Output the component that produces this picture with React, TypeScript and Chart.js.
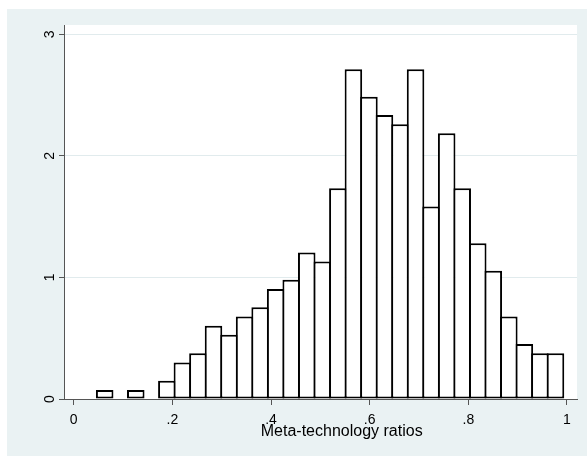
import React, { useEffect, useRef } from "react";
import { Chart, registerables } from "chart.js";

Chart.register(...registerables);

// Histogram bins (centers of 30 equal-width bins) and their densities
const binCenters = [
  0.0628, 0.0943, 0.1258, 0.1573, 0.1888, 0.2203, 0.2518, 0.2834, 0.3149, 0.3464,
  0.3779, 0.4094, 0.4409, 0.4724, 0.504, 0.5355, 0.567, 0.5985, 0.63, 0.6615,
  0.693, 0.7245, 0.7561, 0.7876, 0.8191, 0.8506, 0.8821, 0.9136, 0.9451, 0.9767,
];
const densities: (number | null)[] = [
  0.075, null, 0.075, null, 0.151, 0.301, 0.377, 0.603, 0.528, 0.678,
  0.754, 0.904, 0.98, 1.206, 1.131, 1.734, 2.713, 2.487, 2.336, 2.261,
  2.713, 1.583, 2.186, 1.734, 1.281, 1.055, 0.678, 0.452, 0.377, 0.377,
];

const xTickValues = [0, 0.2, 0.4, 0.6, 0.8, 1];
const xTickLabels = ["0", ".2", ".4", ".6", ".8", "1"];
const yTickValues = [0, 1, 2, 3];
const yTickLabels = ["0", "1", "2", "3"];
const xTitle = "Meta-technology ratios";

const FONT = "'Liberation Sans', Arial, Helvetica, sans-serif";
const BG = "#EAF2F3";
const AXIS = "#555555";

export default function App() {
  const ref = useRef<HTMLCanvasElement>(null);

  useEffect(() => {
    if (!ref.current) return;

    const bgPlugin = {
      id: "stataBg",
      beforeDraw(chart: any) {
        const { ctx, chartArea: a, width, height } = chart;
        ctx.save();
        ctx.fillStyle = BG;
        ctx.fillRect(0, 0, width, height);
        ctx.fillStyle = "#ffffff";
        ctx.fillRect(a.left, a.top, a.right - a.left, a.bottom - a.top);
        ctx.restore();
      },
    };

    const titlePlugin = {
      id: "xTitle",
      afterDraw(chart: any) {
        const ctx = chart.ctx;
        const xs = chart.scales.x;
        ctx.save();
        ctx.font = `16px ${FONT}`;
        ctx.fillStyle = "#000";
        ctx.textAlign = "center";
        ctx.textBaseline = "alphabetic";
        ctx.fillText(xTitle, xs.getPixelForValue(0.5433), chart.chartArea.bottom + 37);
        ctx.restore();
      },
    };

    const chart = new Chart(ref.current, {
      type: "bar",
      data: {
        datasets: [
          {
            data: binCenters.map((x, i) => ({ x, y: densities[i] })) as any,
            backgroundColor: "#ffffff",
            borderColor: "#000000",
            borderWidth: 2,
            borderSkipped: false,
            barPercentage: 1.1286,
            categoryPercentage: 1,
          },
        ],
      },
      options: {
        responsive: false,
        animation: false,
        devicePixelRatio: 1,
        layout: { padding: { top: 16, right: 10, left: 0, bottom: 0 } },
        plugins: { legend: { display: false }, tooltip: { enabled: false } },
        scales: {
          x: {
            type: "linear",
            min: -0.0197,
            max: 1.0203,
            offset: false,
            afterBuildTicks: (s: any) => {
              s.ticks = xTickValues.map((v) => ({ value: v }));
            },
            afterFit: (s: any) => {
              s.height = 57;
            },
            grid: {
              offset: false,
              drawOnChartArea: false,
              drawTicks: true,
              tickLength: 6,
              tickColor: AXIS,
              tickWidth: 1,
            },
            border: { display: true, color: AXIS, width: 1 },
            ticks: {
              autoSkip: false,
              maxRotation: 0,
              minRotation: 0,
              padding: 7,
              color: "#000",
              font: { family: FONT, size: 14 },
              callback: (v: any) => {
                const i = xTickValues.indexOf(Number(v));
                return i >= 0 ? xTickLabels[i] : "";
              },
            },
          },
          y: {
            type: "linear",
            min: 0,
            max: 3.0765,
            afterBuildTicks: (s: any) => {
              s.ticks = yTickValues.map((v) => ({ value: v }));
            },
            afterFit: (s: any) => {
              s.width = 57;
            },
            grid: {
              color: (c: any) => (c.tick && c.tick.value === 0 ? "rgba(0,0,0,0)" : "#E1EBED"),
              lineWidth: 1,
              drawTicks: true,
              tickLength: 5,
              tickColor: AXIS,
              tickWidth: 1,
            },
            border: { display: true, color: AXIS, width: 1 },
            ticks: {
              autoSkip: false,
              minRotation: 90,
              maxRotation: 90,
              crossAlign: "center",
              padding: 4.6,
              color: "#000",
              font: { family: FONT, size: 14 },
              callback: (v: any) => {
                const i = yTickValues.indexOf(Number(v));
                return i >= 0 ? yTickLabels[i] : "";
              },
            },
          },
        },
      } as any,
      plugins: [bgPlugin, titlePlugin],
    });

    return () => chart.destroy();
  }, []);

  return (
    <div style={{ position: "absolute", left: 7, top: 9, width: 580, height: 447 }}>
      <canvas ref={ref} width={580} height={447} style={{ display: "block", width: 580, height: 447 }} />
    </div>
  );
}
